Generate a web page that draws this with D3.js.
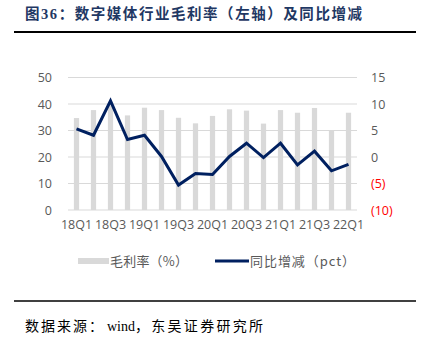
<!DOCTYPE html>
<html><head><meta charset="utf-8">
<script src="https://cdn.jsdelivr.net/npm/d3@7/dist/d3.min.js"></script>
<style>body{margin:0;background:#fff;} svg{display:block;}</style>
</head><body>
<script>
const categories = ["18Q1","18Q2","18Q3","18Q4","19Q1","19Q2","19Q3","19Q4","20Q1","20Q2","20Q3","20Q4","21Q1","21Q2","21Q3","21Q4","22Q1"];
const grossMargin = [34.7,37.7,39.5,35.7,38.6,37.7,34.8,32.7,35.5,38.0,37.5,32.6,37.7,36.7,38.5,29.9,36.7];
const yoyChange = [5.3,4.1,10.6,3.3,4.1,0.1,-5.3,-3.1,-3.3,0.1,2.6,-0.1,2.6,-1.5,1.1,-2.6,-1.4];
const leftTicks = [0,10,20,30,40,50];
const rightTicks = [-10,-5,0,5,10,15];
const title = "图36：数字媒体行业毛利率（左轴）及同比增减";
const sourceParts = ["数据来源：", "wind", "，东吴证券研究所"];
const legendLabels = ["毛利率（%）","同比增减（pct）"];

const W = 422, H = 346;
const svg = d3.select("body").append("svg").attr("width", W).attr("height", H);
const plot = {left: 68, right: 357, top: 77.5, bottom: 210};

const x = d3.scaleBand().domain(categories).range([plot.left, plot.right]).padding(0);
const yL = d3.scaleLinear().domain([0, 50]).range([plot.bottom, plot.top]);
const yR = d3.scaleLinear().domain([-10, 15]).range([plot.bottom, plot.top]);

// title
svg.append("text").attr("x", 25).attr("y", 19)
  .attr("font-family", "'Liberation Serif','Noto Sans CJK SC',serif")
  .attr("font-weight", "bold").attr("font-size", 14.5).attr("fill", "#1F3864")
  .attr("textLength", 337).attr("lengthAdjust", "spacing")
  .text(title);
svg.append("line").attr("x1", 14).attr("x2", 416).attr("y1", 32).attr("y2", 32)
  .attr("stroke", "#000").attr("stroke-width", 1.8);

// gridlines
svg.append("g").selectAll("line").data(leftTicks).join("line")
  .attr("x1", plot.left).attr("x2", plot.right)
  .attr("y1", d => yL(d)).attr("y2", d => yL(d))
  .attr("stroke", "#d9d9d9").attr("stroke-width", 1);

// left axis
const axL = d3.axisLeft(yL).tickValues(leftTicks).tickSize(0).tickPadding(0);
const gL = svg.append("g").attr("transform", `translate(${plot.left - 16},0)`).call(axL);
gL.select(".domain").remove();
gL.selectAll("text").attr("font-family", "'Open Sans','Liberation Sans',sans-serif")
  .attr("font-size", 12.5).attr("fill", "#595959");

// right axis
const axR = d3.axisRight(yR).tickValues(rightTicks).tickSize(0).tickPadding(0)
  .tickFormat(d => d < 0 ? `(${-d})` : d);
const gR = svg.append("g").attr("transform", `translate(${plot.right + 14},0)`).call(axR);
gR.select(".domain").remove();
gR.selectAll("text").attr("font-family", "'Open Sans','Liberation Sans',sans-serif")
  .attr("font-size", 12.5).attr("fill", d => d < 0 ? "#FF0000" : "#595959");

// bars
svg.append("g").selectAll("rect").data(grossMargin).join("rect")
  .attr("x", (d, i) => x(categories[i]) + x.bandwidth() / 2 - 2.6)
  .attr("width", 5.2)
  .attr("y", d => yL(d)).attr("height", d => yL(0) - yL(d))
  .attr("fill", "#d9d9d9");

// line
const line = d3.line().x((d, i) => x(categories[i]) + x.bandwidth() / 2).y(d => yR(d));
svg.append("path").datum(yoyChange).attr("d", line)
  .attr("fill", "none").attr("stroke", "#002060").attr("stroke-width", 3)
  .attr("stroke-linejoin", "miter");

// x axis labels
const axX = d3.axisBottom(x).tickValues(categories.filter((c, i) => i % 2 === 0)).tickSize(0).tickPadding(0);
const gX = svg.append("g").attr("transform", `translate(0,${plot.bottom + 10})`).call(axX);
gX.select(".domain").remove();
gX.selectAll("text").attr("font-family", "'Open Sans','Liberation Sans',sans-serif")
  .attr("font-size", 12.5).attr("fill", "#595959").attr("dy", "0.75em");

// legend
const lg = svg.append("g").attr("font-family", "'Noto Sans CJK SC',sans-serif")
  .attr("font-size", 13).attr("fill", "#595959");
lg.append("rect").attr("x", 78).attr("y", 258).attr("width", 31).attr("height", 6).attr("fill", "#d9d9d9");
lg.append("text").attr("x", 110).attr("y", 266).attr("textLength", 78).attr("lengthAdjust", "spacing").text(legendLabels[0]);
lg.append("line").attr("x1", 215).attr("x2", 249).attr("y1", 261).attr("y2", 261)
  .attr("stroke", "#002060").attr("stroke-width", 3);
lg.append("text").attr("x", 250).attr("y", 266).attr("textLength", 105).attr("lengthAdjust", "spacing").text(legendLabels[1]);

// bottom rule + source
svg.append("line").attr("x1", 14).attr("x2", 416).attr("y1", 301).attr("y2", 301)
  .attr("stroke", "#000").attr("stroke-width", 1.3);
const src = svg.append("text").attr("x", 25).attr("y", 331)
  .attr("font-family", "'Liberation Serif','Noto Sans CJK SC',serif")
  .attr("font-size", 14).attr("fill", "#000");
src.append("tspan").attr("textLength", 78).attr("lengthAdjust", "spacing").text(sourceParts[0]);
src.append("tspan").attr("dx", 2).text(sourceParts[1]);
src.append("tspan").attr("textLength", 128).attr("lengthAdjust", "spacing").text(sourceParts[2]);
</script>
</body></html>
